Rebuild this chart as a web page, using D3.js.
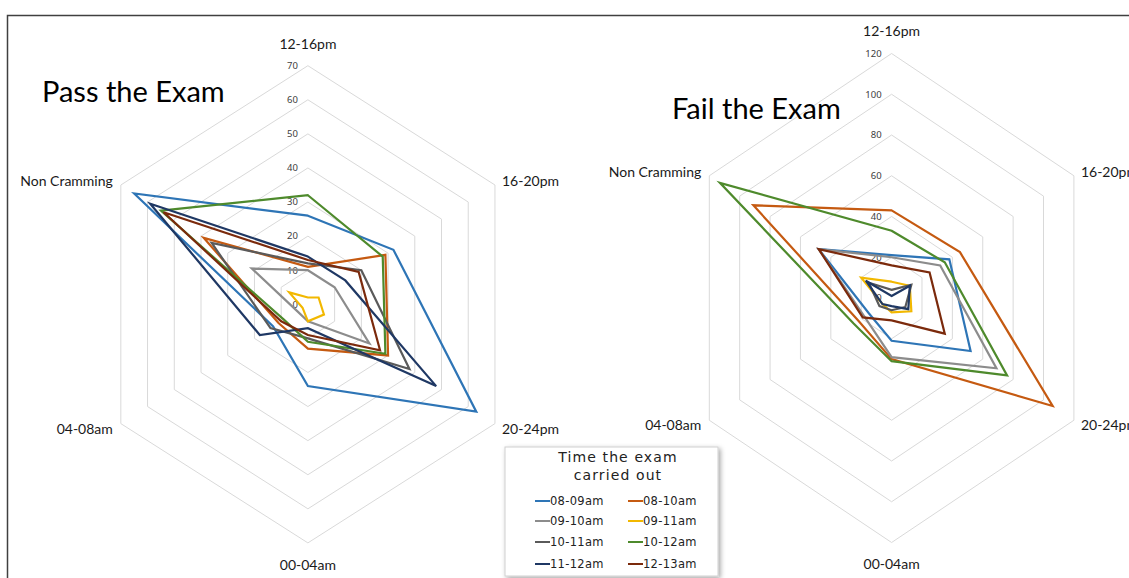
<!doctype html>
<html>
<head>
<meta charset="utf-8">
<script src="https://d3js.org/d3.v7.min.js"></script>
<style>
  body { margin: 0; background: #fff; }
  svg { display: block; }
  .axis-label { font-family: "Comic Sans MS", "Lato", sans-serif; font-size: 14px; fill: #1a1a1a; }
  .tick-label { font-family: "Noto Sans", sans-serif; font-size: 9.5px; fill: #404040; }
  .title { font-family: "Comic Sans MS", "Lato", sans-serif; font-size: 29px; fill: #000; }
  .legend text { font-family: "DejaVu Sans", sans-serif; fill: #222; }
</style>
</head>
<body>
<svg id="chart" width="1129" height="578"></svg>
<script>
// axes go clockwise from the top
const axes = ["12-16pm", "16-20pm", "20-24pm", "00-04am", "04-08am", "Non Cramming"];
const series = ["08-09am", "08-10am", "09-10am", "09-11am", "10-11am", "10-12am", "11-12am", "12-13am"];
const colors = ["#2e75b6", "#c55a11", "#8c8c8c", "#f2b800", "#5a5a5a", "#4e8a2c", "#1f3864", "#7b2a0c"];

// values per series, in the same order as axes
const passValues = [
  [26, 32, 63, 24, 13, 65],
  [11, 29, 30, 13, 11, 39],
  [10, 10, 23, 5, 4, 21],
  [2, 4, 6, 5, 2, 7],
  [12, 20, 38, 10, 14, 36],
  [32, 28, 29, 11, 9, 55],
  [14, 14, 48, 7, 18, 59],
  [13, 19, 27, 9, 10, 54]
];
const failValues = [
  [21, 38, 52, 21, 15, 48],
  [43, 45, 106, 30, 22, 91],
  [20, 32, 69, 29, 18, 48],
  [8, 12, 13, 7, 6, 20],
  [4, 13, 9, 6, 8, 15],
  [33, 35, 76, 31, 25, 113],
  [1, 12, 11, 4, 6, 17],
  [16, 25, 35, 11, 19, 48]
];
const passTicks = [0, 10, 20, 30, 40, 50, 60, 70];
const failTicks = [0, 20, 40, 60, 80, 100, 120];

const svg = d3.select("#chart");

// frame of the original sheet (only top and left edges are visible)
svg.append("path")
  .attr("d", "M7.5,578 L7.5,15.5 L1129,15.5")
  .attr("fill", "none")
  .attr("stroke", "#404040")
  .attr("stroke-width", 1.5);

function radar(opts) {
  const g = svg.append("g");
  const r = d3.scaleLinear().domain([0, d3.max(opts.ticks)]).range([0, 1]);
  const ang = i => i * Math.PI / 3;
  const px = (i, v) => opts.cx + opts.rx * r(v) * Math.sin(ang(i));
  const py = (i, v) => opts.cy - opts.ry * r(v) * Math.cos(ang(i));
  const line = d3.line().x(d => d[0]).y(d => d[1]).curve(d3.curveLinearClosed);

  // rings
  g.selectAll(".ring").data(opts.ticks.filter(t => t > 0)).join("path")
    .attr("d", t => line(axes.map((a, i) => [px(i, t), py(i, t)])))
    .attr("fill", "none").attr("stroke", "#d9d9d9").attr("stroke-width", 1);

  // tick labels
  g.selectAll(".tick-label").data(opts.ticks).join("text")
    .attr("class", "tick-label")
    .attr("x", opts.cx - 10)
    .attr("y", t => py(0, t))
    .attr("dy", "0.35em")
    .attr("text-anchor", "end")
    .text(t => t);

  // series
  g.selectAll(".series").data(opts.values).join("path")
    .attr("d", vals => line(vals.map((v, i) => [px(i, v), py(i, v)])))
    .attr("fill", "none")
    .attr("stroke", (d, i) => colors[i])
    .attr("stroke-width", 2.2)
    .attr("stroke-linejoin", "miter");

  // axis labels
  const max = d3.max(opts.ticks);
  g.selectAll(".axis-label").data(axes).join("text")
    .attr("class", "axis-label")
    .attr("x", (a, i) => {
      const x = px(i, max);
      if (i === 1 || i === 2) return x + 7;
      if (i === 4 || i === 5) return x - 8;
      return x;
    })
    .attr("y", (a, i) => {
      const y = py(i, max);
      if (i === 0) return y - 22;
      if (i === 3) return y + 22;
      if (i === 1 || i === 5) return y - 4;
      return y + 5;
    })
    .attr("dy", "0.35em")
    .attr("text-anchor", (a, i) => (i === 0 || i === 3) ? "middle" : (i < 3 ? "start" : "end"))
    .text(a => a);

  g.append("text").attr("class", "title")
    .attr("x", opts.titleX).attr("y", opts.titleY)
    .attr("dy", "0.35em")
    .text(opts.title);
}

radar({cx: 307.9, cy: 304.3, rx: 216, ry: 238.6, ticks: passTicks, values: passValues,
       title: "Pass the Exam", titleX: 42, titleY: 92});
radar({cx: 891.6, cy: 298, rx: 210.5, ry: 244.5, ticks: failTicks, values: failValues,
       title: "Fail the Exam", titleX: 672, titleY: 109});

// legend
const defs = svg.append("defs");
const f = defs.append("filter").attr("id", "shadow").attr("x", "-10%").attr("y", "-10%")
  .attr("width", "130%").attr("height", "130%");
f.append("feDropShadow").attr("dx", 2).attr("dy", 2).attr("stdDeviation", 2.5)
  .attr("flood-color", "#000").attr("flood-opacity", 0.35);

const lg = svg.append("g").attr("class", "legend");
lg.append("rect").attr("x", 505).attr("y", 447).attr("width", 213).attr("height", 129)
  .attr("fill", "#fff").attr("stroke", "#d0d0d0").attr("filter", "url(#shadow)");
lg.append("text").attr("x", 618).attr("y", 457).attr("dy", "0.35em")
  .attr("text-anchor", "middle").attr("font-size", 14).attr("letter-spacing", 1.1)
  .text("Time the exam");
lg.append("text").attr("x", 618).attr("y", 475).attr("dy", "0.35em")
  .attr("text-anchor", "middle").attr("font-size", 14).attr("letter-spacing", 1.1)
  .text("carried out");

const rowY = [501, 521, 542, 564];
const colX = [535, 628];
const item = lg.selectAll(".item").data(series).join("g")
  .attr("transform", (d, i) => `translate(${colX[i % 2]},${rowY[Math.floor(i / 2)]})`);
item.append("line").attr("x1", 0).attr("x2", 15)
  .attr("stroke", (d, i) => colors[i]).attr("stroke-width", 2);
item.append("text").attr("x", 15).attr("dy", "0.35em").attr("font-size", 11.5)
  .attr("letter-spacing", 0.3)
  .text(d => d);
</script>
</body>
</html>
